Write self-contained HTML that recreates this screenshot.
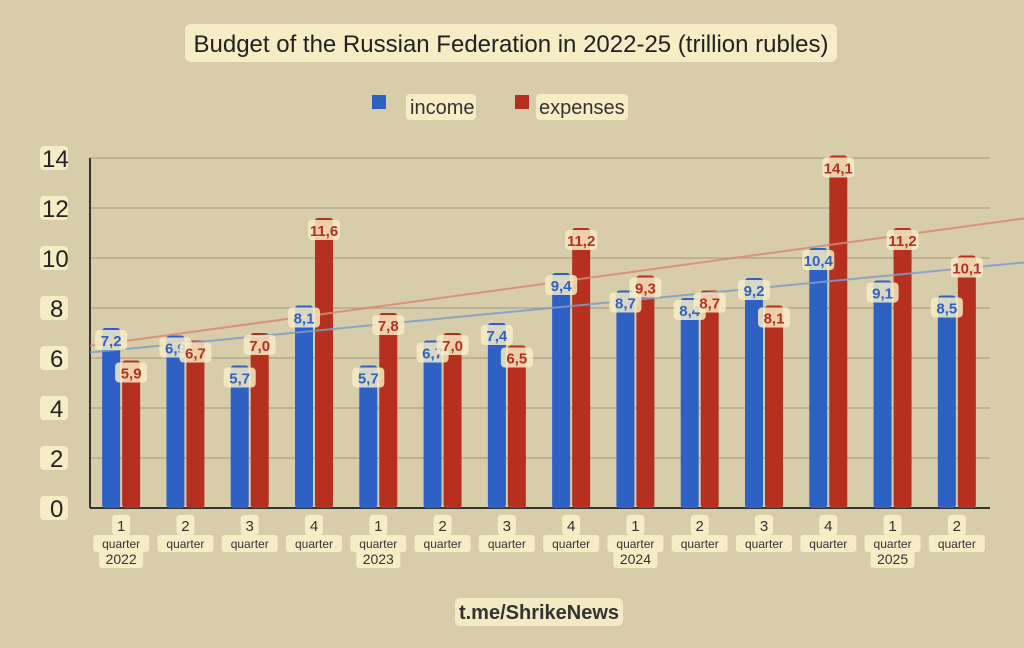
<!DOCTYPE html>
<html><head><meta charset="utf-8"><style>
body{margin:0;background:#d8cdab;font-family:"Liberation Sans",sans-serif}
svg{display:block}
</style></head><body>
<svg width="1024" height="648" viewBox="0 0 1024 648">
<rect width="1024" height="648" fill="#d8cdab"/>
<rect x="185" y="24" width="652" height="38" rx="6" fill="#f6ecc6"/>
<text x="511" y="52" font-size="24" text-anchor="middle" fill="#222">Budget of the Russian Federation in 2022-25 (trillion rubles)</text>
<g>
<rect x="372" y="95" width="14" height="14" fill="#2f61c4"/>
<rect x="406" y="94" width="70" height="26" rx="4" fill="#f6ecc6"/>
<text x="410" y="114" font-size="20" fill="#333">income</text>
<rect x="515" y="95" width="14" height="14" fill="#b5301f"/>
<rect x="536" y="94" width="92" height="26" rx="4" fill="#f6ecc6"/>
<text x="539" y="114" font-size="20" fill="#333">expenses</text>
</g>
<g id="grid"></g><g id="bars"></g><g id="trend"></g><g id="labels"></g><g id="xaxis"></g>
<rect x="455" y="598" width="168" height="28" rx="5" fill="#f3e9c3"/>
<text x="539" y="619" font-size="20" font-weight="bold" text-anchor="middle" fill="#333">t.me/ShrikeNews</text>
</svg>
<script>
const quarters=["1","2","3","4","1","2","3","4","1","2","3","4","1","2"];
const years=["2022","","","","2023","","","","2024","","","","2025",""];
const income=[7.2,6.9,5.7,8.1,5.7,6.7,7.4,9.4,8.7,8.4,9.2,10.4,9.1,8.5];
const expenses=[5.9,6.7,7.0,11.6,7.8,7.0,6.5,11.2,9.3,8.7,8.1,14.1,11.2,10.1];
const yTicks=[0,2,4,6,8,10,12,14];
const NS="http://www.w3.org/2000/svg";
const X0=90,X1=990,Y0=508,Y14=158;
const y=v=>Y0-(v/14)*(Y0-Y14);
const step=(X1-X0)/quarters.length;
const cx=i=>X0+step*(i+0.5)-1;
function mk(tag,attrs,parent,txt){const e=document.createElementNS(NS,tag);for(const k in attrs)e.setAttribute(k,attrs[k]);if(txt!==undefined)e.textContent=txt;document.getElementById(parent).appendChild(e);return e;}
yTicks.forEach(t=>{
  let l=mk("line",{x1:X0,x2:X1,y1:y(t),y2:y(t),stroke:t===0?"#333":"#aaa089","stroke-width":t===0?2:1.2},"grid");
  
  
  let b=mk("rect",{x:40,y:y(t)-12,width:28,height:24,rx:4,fill:"#f6ecc6"},"grid");
  
  
  let s=mk("text",{x:t>=10?42:50,y:y(t)+9,"font-size":24,fill:"#222"},"grid",String(t));
  
  
});
mk("line",{x1:X0,x2:X0,y1:Y14,y2:Y0,stroke:"#333","stroke-width":2},"grid");
const bw=18;
function bar(i,v,off,col,name){
  let r=mk("rect",{x:cx(i)+off-bw/2,y:y(v),width:bw,height:Y0-y(v),rx:3,fill:col},"bars");
  
  
}
function label(i,v,off,col,name){
  const txt=v.toFixed(1).replace(".",",");
  let b=mk("rect",{x:cx(i)+off-16,y:y(v)+2,width:32,height:20,rx:4,fill:"#f6ecc6",opacity:0.85},"labels");
  
  
  let t=mk("text",{x:cx(i)+off,y:y(v)+18,"font-size":15,"text-anchor":"middle",fill:col,"font-weight":"bold"},"labels",txt);
  
  
}
quarters.forEach((q,i)=>{
  bar(i,income[i],-10,"#2f61c4","bar-income");
  bar(i,expenses[i],10,"#b5301f","bar-expenses");
  label(i,income[i],-10,"#2f61c4","value-income");
  label(i,expenses[i],10,"#b5301f","value-expenses");
  let b=mk("rect",{x:cx(i)-9,y:515,width:18,height:20,rx:3,fill:"#f6ecc6"},"xaxis");
  
  
  let t=mk("text",{x:cx(i),y:531,"font-size":15,"text-anchor":"middle",fill:"#333"},"xaxis",q);
  
  
  let qb=mk("rect",{x:cx(i)-28,y:535,width:56,height:17,rx:3,fill:"#f6ecc6"},"xaxis");
  
  
  let qt=mk("text",{x:cx(i),y:548,"font-size":12,"text-anchor":"middle",fill:"#333"},"xaxis","quarter");
  
  
  if(years[i]){
    let yb=mk("rect",{x:cx(i)-22,y:550,width:44,height:18,rx:3,fill:"#f6ecc6"},"xaxis");
    
    
    let yt=mk("text",{x:cx(i),y:564,"font-size":14,"text-anchor":"middle",fill:"#333"},"xaxis",years[i]);
    
    
  }
});
function trend(arr,col,name){
  const n=arr.length,xs=arr.map((_,i)=>i);
  const mx=xs.reduce((a,b)=>a+b)/n,my=arr.reduce((a,b)=>a+b)/n;
  let num=0,den=0;xs.forEach((x,i)=>{num+=(x-mx)*(arr[i]-my);den+=(x-mx)**2;});
  const m=num/den,b=my-m*mx;
  const xi=px=>(px-X0)/step-0.5;
  const f=px=>m*xi(px)+b;
  let l=mk("line",{x1:X0,y1:y(f(X0)),x2:1024,y2:y(f(1024)),stroke:col,"stroke-width":2,opacity:0.85},"trend");
  
  
}
trend(income,"#7f9dc8","trendline-income");
trend(expenses,"#d98a72","trendline-expenses");
</script>
</body></html>
